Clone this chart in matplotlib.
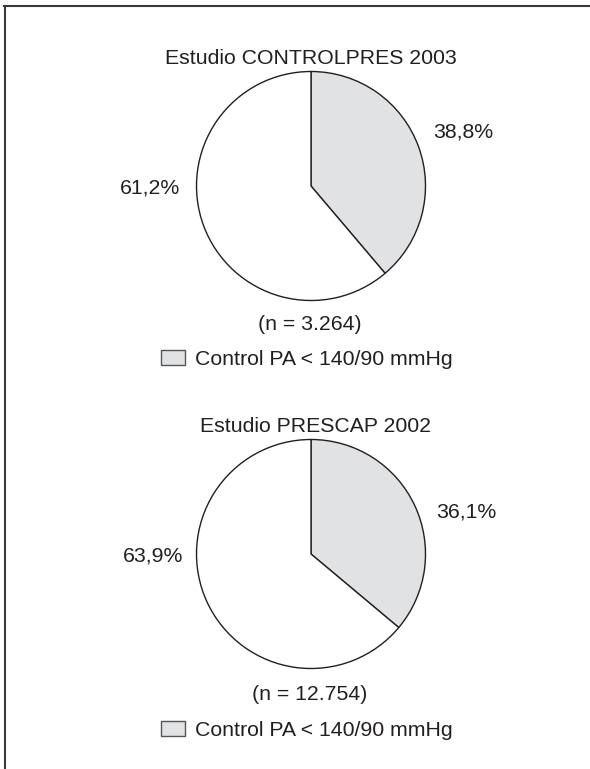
import matplotlib.pyplot as plt
from matplotlib.patches import Rectangle
from matplotlib.lines import Line2D

plt.rcParams['font.family'] = ['Liberation Sans', 'DejaVu Sans']

titles = ['Estudio CONTROLPRES 2003', 'Estudio PRESCAP 2002']
controlled = [38.8, 36.1]
uncontrolled = [61.2, 63.9]
sample_sizes = ['3.264', '12.754']
legend_label = 'Control PA < 140/90 mmHg'

W, H = 590, 769
ink = '#231f20'
grey = '#e1e2e4'

# pixel layout of each panel: pie centre, title/n/legend baselines, label offsets
centers = [(311, 186), (311, 554)]
title_y = [64, 432]
title_x = [311, 316]
n_y = [330, 700]
legend_y = [365, 736]
ctrl_offset = [(152, -49), (155, -36)]
unctrl_offset = [(-161, 7), (-158, 8)]
radius = 114.5


def pct(v):
    return f'{v:.1f}%'.replace('.', ',')


fig = plt.figure(figsize=(W / 100, H / 100), dpi=100)
ax = fig.add_axes([0, 0, 1, 1])

for i in range(2):
    cx, cy = centers[i]
    ax.pie([controlled[i], uncontrolled[i]], colors=[grey, 'white'],
           startangle=90, counterclock=False, center=(cx, H - cy),
           radius=radius, frame=True,
           wedgeprops=dict(edgecolor=ink, linewidth=1.0))

    txt = dict(color=ink, fontsize=15.3, va='baseline')
    ax.text(title_x[i], H - title_y[i], titles[i], ha='center', **txt)
    dx, dy = ctrl_offset[i]
    ax.text(cx + dx, H - (cy + dy), pct(controlled[i]), ha='center', **txt)
    dx, dy = unctrl_offset[i]
    ax.text(cx + dx, H - (cy + dy), pct(uncontrolled[i]), ha='center', **txt)
    ax.text(310, H - n_y[i], f'(n = {sample_sizes[i]})', ha='center', **txt)

    ly = legend_y[i]
    ax.add_patch(Rectangle((161, H - ly), 24, 15, facecolor=grey,
                           edgecolor='#555555', linewidth=1.0))
    ax.text(195, H - ly, legend_label, ha='left', **txt)

ax.set_xlim(0, W)
ax.set_ylim(0, H)
ax.set_aspect('equal')
ax.axis('off')

# open box frame: top and left edges only
frame_kw = dict(color='#3a3a3a', linewidth=1.5, transform=None)
fig.add_artist(Line2D([4, W], [H - 6, H - 6], **frame_kw))
fig.add_artist(Line2D([4.5, 4.5], [0, H - 6], **frame_kw))

fig.savefig('out.png', dpi=100, facecolor='white')
